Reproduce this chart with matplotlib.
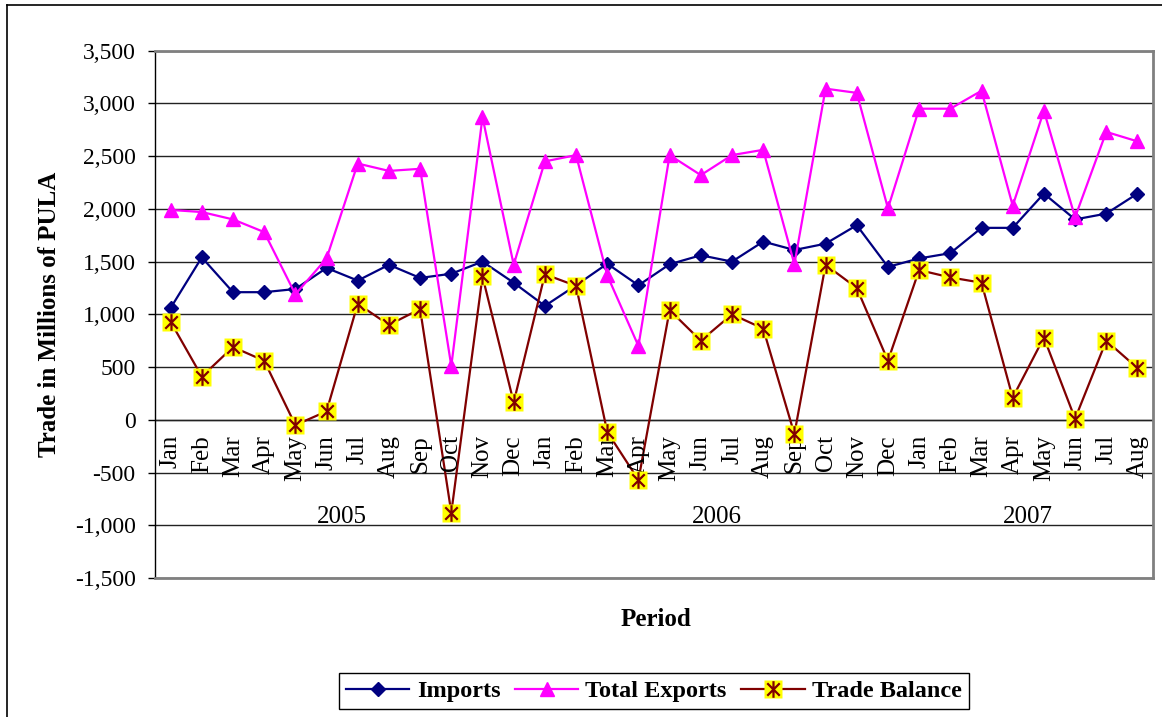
import matplotlib.pyplot as plt
import matplotlib.ticker as mticker
from matplotlib.path import Path
from matplotlib.lines import Line2D
from matplotlib.legend_handler import HandlerTuple

months = ['Jan', 'Feb', 'Mar', 'Apr', 'May', 'Jun', 'Jul', 'Aug', 'Sep', 'Oct', 'Nov', 'Dec',
          'Jan', 'Feb', 'Mar', 'Apr', 'May', 'Jun', 'Jul', 'Aug', 'Sep', 'Oct', 'Nov', 'Dec',
          'Jan', 'Feb', 'Mar', 'Apr', 'May', 'Jun', 'Jul', 'Aug']
years = ['2005', '2006', '2007']
year_centres = [5.5, 17.5, 27.5]

imports = [1060, 1540, 1210, 1210, 1240, 1440, 1320, 1470, 1345, 1385, 1500, 1300,
           1080, 1275, 1480, 1275, 1475, 1560, 1500, 1690, 1610, 1670, 1845, 1450,
           1530, 1580, 1820, 1820, 2145, 1900, 1955, 2145]
exports = [1990, 1970, 1900, 1780, 1190, 1530, 2430, 2360, 2380, 510, 2870, 1470,
           2450, 2510, 1370, 700, 2510, 2320, 2510, 2560, 1475, 3140, 3100, 2005,
           2950, 2950, 3120, 2030, 2930, 1920, 2730, 2640]
balance = [930, 410, 690, 560, -50, 80, 1100, 900, 1050, -880, 1360, 165,
           1380, 1270, -115, -570, 1040, 750, 1000, 865, -135, 1470, 1250, 560,
           1420, 1350, 1300, 210, 780, 10, 750, 490]

serif = ['Liberation Serif', 'DejaVu Serif']
plt.rcParams['font.family'] = serif

# excel style asterisk: vertical bar plus an X
star = Path([(0, -1), (0, 1), (-0.75, -0.75), (0.75, 0.75), (-0.75, 0.75), (0.75, -0.75)],
            [Path.MOVETO, Path.LINETO, Path.MOVETO, Path.LINETO, Path.MOVETO, Path.LINETO])

fig = plt.figure(figsize=(11.62, 7.17), dpi=100)
ax = fig.add_axes([0.1334, 0.1939, 0.8589, 0.7354])

x = list(range(len(months)))
ax.plot(x, imports, color='#000080', lw=1.6, marker='D', ms=7.5, zorder=3)
ax.plot(x, exports, color='#FF00FF', lw=1.6, marker='^', ms=10, zorder=3)
ax.plot(x, balance, color='#800000', lw=1.6, zorder=3)
ax.plot(x, balance, ls='none', marker='s', ms=13.5, mfc='#FFFF00', mec='none', zorder=4)
ax.plot(x, balance, ls='none', marker=star, ms=12, mew=1.6, mec='#800000', zorder=5)

ax.set_xlim(-0.5, len(months) - 0.5)
ax.set_ylim(-1500, 3500)
ax.yaxis.set_major_locator(mticker.MultipleLocator(500))
ax.yaxis.set_major_formatter(mticker.FuncFormatter(lambda v, p: f'{v:,.0f}'))
ax.grid(axis='y', color='#222222', lw=1)
ax.set_axisbelow(True)
ax.axhline(0, color='#222222', lw=1, zorder=1)

ax.set_xticks([])
ax.tick_params(axis='y', direction='out', length=5, width=1, labelsize=17, pad=9)
for s in ['top', 'right', 'bottom']:
    ax.spines[s].set_color('#808080')
    ax.spines[s].set_linewidth(2)
ax.spines['left'].set_color('black')
ax.spines['left'].set_linewidth(1)

for i, m in enumerate(months):
    ax.annotate(m, xy=(i, 0), xytext=(0, -11), textcoords='offset points',
                rotation=90, ha='center', va='top', fontsize=18)
for c, yr in zip(year_centres, years):
    ax.annotate(yr, xy=(c, 0), xytext=(0, -70), textcoords='offset points',
                ha='center', va='center', fontsize=18)

ax.set_ylabel('Trade in Millions of PULA', fontsize=18, fontweight='bold', labelpad=10)
fig.text(0.5645, 1 - 620 / 717, 'Period', ha='center', va='center', fontsize=18, fontweight='bold')

h_imp = Line2D([], [], color='#000080', lw=1.6, marker='D', ms=7.5)
h_exp = Line2D([], [], color='#FF00FF', lw=1.6, marker='^', ms=10)
h_sq = Line2D([], [], color='#800000', lw=1.6, marker='s', ms=13.5, mfc='#FFFF00', mec='none')
h_bal = Line2D([], [], ls='none', marker=star, ms=12, mew=1.6, mec='#800000')
leg = fig.legend([h_imp, h_exp, (h_sq, h_bal)], ['Imports', 'Total Exports', 'Trade Balance'],
                 handler_map={tuple: HandlerTuple(ndivide=1)},
                 loc='center', bbox_to_anchor=(654 / 1162, 1 - 691 / 717), ncol=3,
                 frameon=True, fancybox=False, edgecolor='black', framealpha=1,
                 prop={'family': serif, 'weight': 'bold', 'size': 17.5},
                 handlelength=2.6, handletextpad=0.3, columnspacing=0.6,
                 borderpad=0.3)
leg.get_frame().set_linewidth(1)

# chart area border (top and left edges visible)
fig.add_artist(Line2D([7 / 1162, 7 / 1162], [0, 1 - 5 / 717], color='black', lw=1.2))
fig.add_artist(Line2D([7 / 1162, 1], [1 - 5 / 717, 1 - 5 / 717], color='black', lw=1.2))

fig.savefig('out.png', dpi=100)
